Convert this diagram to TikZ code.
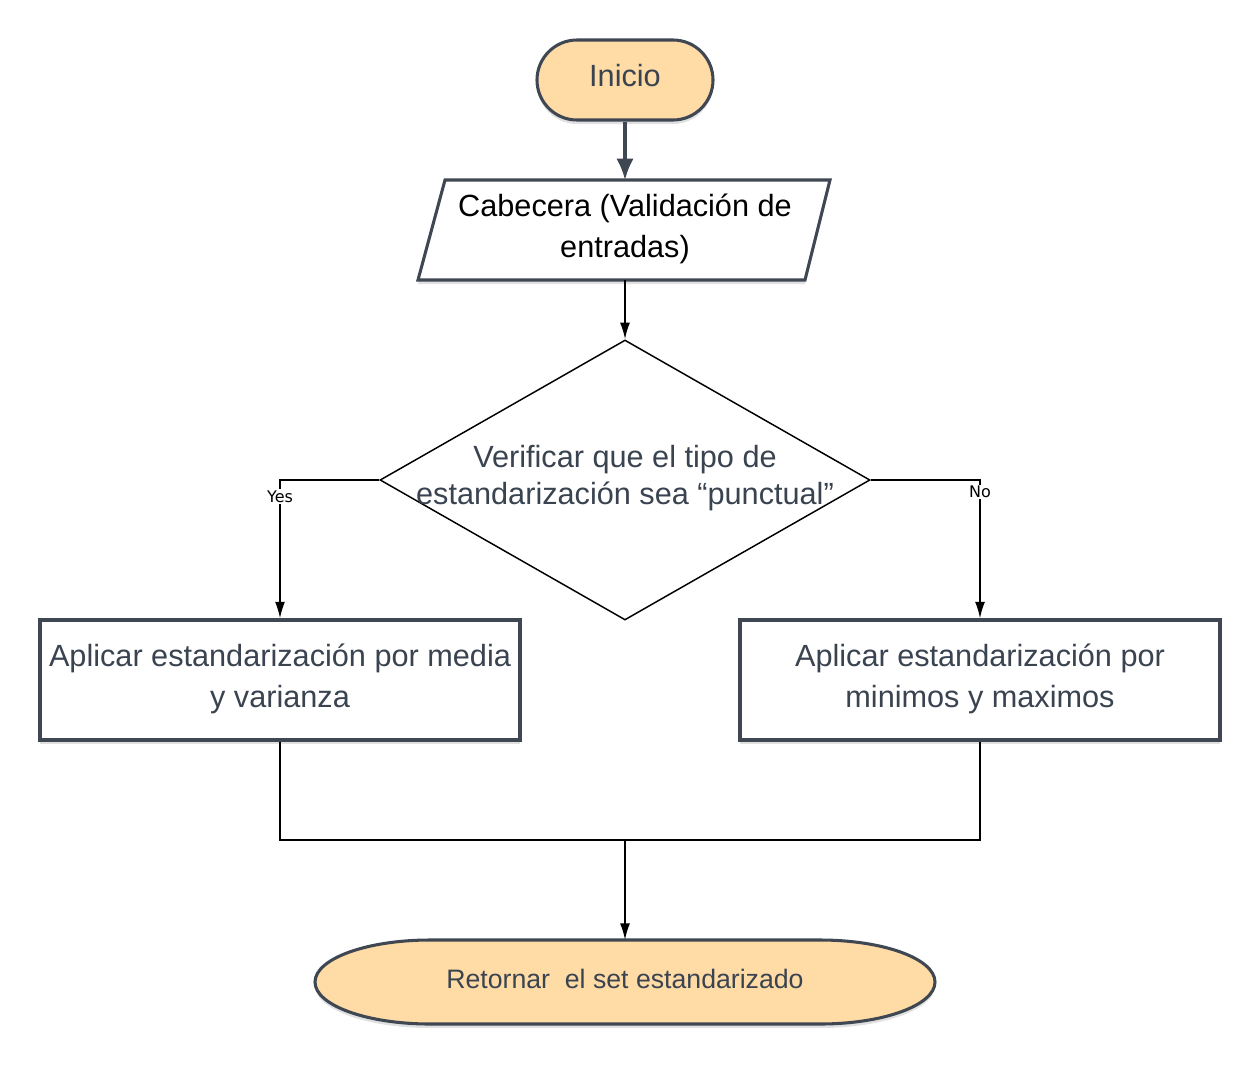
\documentclass[tikz,border=0pt]{standalone}
\usepackage{fontspec}
\setmainfont{Liberation Sans}
\newfontfamily\lblfont{DejaVu Sans}
\usetikzlibrary{shapes.geometric,arrows.meta,shadows}
\definecolor{edgecol}{HTML}{3F4752}
\definecolor{peach}{HTML}{FFDBA6}
\definecolor{txtcol}{HTML}{3A4350}
\begin{document}
\begin{tikzpicture}[x=0.75pt,y=-0.75pt,
  softshadow/.style={drop shadow={shadow xshift=0pt,shadow yshift=-3pt,opacity=0.12,fill=black}},
  thickshape/.style={draw=edgecol,line width=2.3pt,softshadow},
  maintext/.style={font=\fontsize{23}{30.75}\selectfont,align=center,text=txtcol,inner sep=0pt},
  startnode/.style={thickshape,fill=peach,rectangle,rounded corners=30pt,minimum width=176*0.75pt,minimum height=80*0.75pt,maintext},
  procbox/.style={thickshape,fill=white,rectangle,minimum width=480*0.75pt,minimum height=120*0.75pt,maintext},
  decision/.style={draw=black,line width=1.1pt,fill=white,diamond,inner sep=0pt,minimum width=490*0.75pt,minimum height=280*0.75pt},
  thinline/.style={draw=black,line width=1.3pt},
  thinarrow/.style={thinline,-{Latex[length=12.5pt,width=7.5pt]}},
  thickarrow/.style={draw=edgecol,line width=2.3pt,-{Latex[length=16pt,width=13pt]}},
  branchlbl/.style={font=\lblfont\fontsize{12}{14}\selectfont,fill=white,inner sep=1pt,text=black}
]
\useasboundingbox (0,0) rectangle (1260,1064);

% Inicio
\node[startnode] (inicio) at (625,80) {};
\node[maintext] (iniciotext) at (625,76) {Inicio};

% Parallelogram
\path[thickshape,fill=white] (445,180) -- (830,180) -- (805,280) -- (418,280) -- cycle;
\coordinate (cabN) at (625,180);
\coordinate (cabS) at (625,280);
\node[maintext,text=black] (cab) at (625,229) {Cabecera (Validación de\\entradas)};

% Decision
\node[decision] (dec) at (625,480) {};
\node[maintext,font=\fontsize{23}{27.75}\selectfont] (dectext) at (625,478) {Verificar que el tipo de\\estandarización sea “punctual”};

% Process boxes
\node[procbox] (media) at (280,680) {};
\node[maintext] (mediatext) at (280,679) {Aplicar estandarización por media\\y varianza};
\node[procbox] (minmax) at (980,680) {};
\node[maintext] (minmaxtext) at (980,679) {Aplicar estandarización por\\minimos y maximos};

% End terminator
\path[thickshape,fill=peach] (430,940) -- (820,940)
  arc[start angle=-90,end angle=90,x radius=115,y radius=42]
  -- (430,1024)
  arc[start angle=90,end angle=270,x radius=115,y radius=42] -- cycle;
\coordinate (finN) at (625,940);
\node[maintext,font=\fontsize{20}{24}\selectfont] (fin) at (625,979) {Retornar\ \ el set estandarizado};

% Connectors
\draw[thickarrow] (inicio.south) -- (cabN);
\draw[thinarrow] (cabS) -- (dec.north);
\draw[thinarrow] (dec.west) -| (media.north)
  node[pos=0.56,branchlbl] (yes) {Yes};
\draw[thinarrow] (dec.east) -| (minmax.north)
  node[pos=0.543,branchlbl] (no) {No};
\coordinate (join) at (625,840);
\draw[thinline] (media.south) |- (join);
\draw[thinline] (minmax.south) |- (join);
\draw[thinarrow] (join) -- (finN);
\end{tikzpicture}
\end{document}
